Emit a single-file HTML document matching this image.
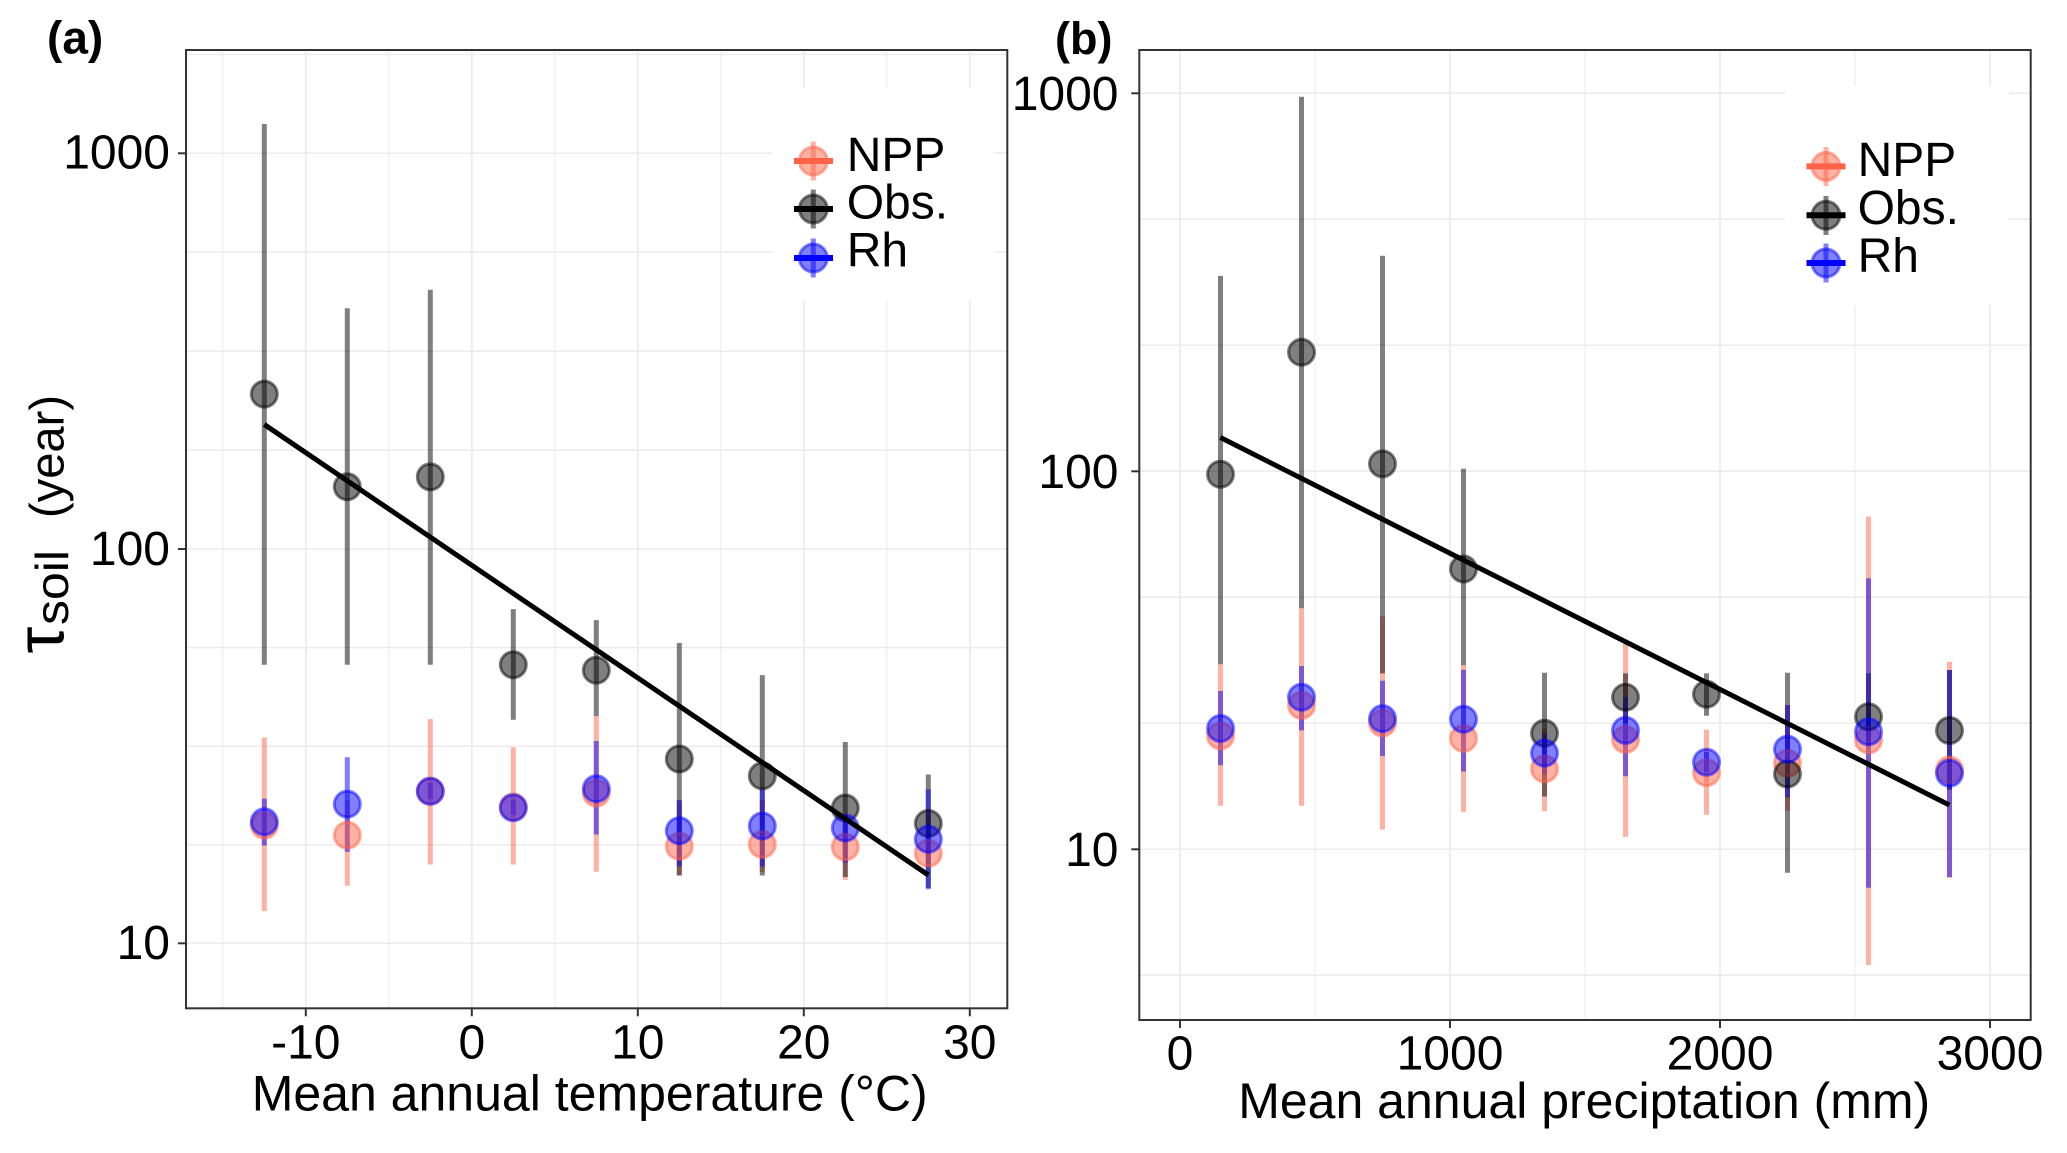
<!DOCTYPE html>
<html><head><meta charset="utf-8"><style>
html,body{margin:0;padding:0;background:#fff;}
svg{display:block;}
text{font-family:"Liberation Sans",Arial,sans-serif;fill:#000;}
</style></head><body>
<svg width="2067" height="1153" viewBox="0 0 2067 1153" xmlns="http://www.w3.org/2000/svg">
<rect x="0" y="0" width="2067" height="1153" fill="#fff"/>

<!-- ================= PANEL A ================= -->
<g stroke="#ebebeb" fill="none">
  <!-- minor verticals -->
  <g stroke-width="1">
    <line x1="222.8" y1="50" x2="222.8" y2="1008.3"/>
    <line x1="388.8" y1="50" x2="388.8" y2="1008.3"/>
    <line x1="554.8" y1="50" x2="554.8" y2="1008.3"/>
    <line x1="720.8" y1="50" x2="720.8" y2="1008.3"/>
    <line x1="886.8" y1="50" x2="886.8" y2="1008.3"/>
  </g>
  <g stroke-width="1.7">
    <line x1="305.8" y1="50" x2="305.8" y2="1008.3"/>
    <line x1="471.8" y1="50" x2="471.8" y2="1008.3"/>
    <line x1="637.8" y1="50" x2="637.8" y2="1008.3"/>
    <line x1="803.8" y1="50" x2="803.8" y2="1008.3"/>
    <line x1="969.8" y1="50" x2="969.8" y2="1008.3"/>
  </g>
  <g stroke-width="1.5">
    <line x1="186" y1="54.4" x2="1007.3" y2="54.4"/>
    <line x1="186" y1="153.3" x2="1007.3" y2="153.3"/>
    <line x1="186" y1="252.2" x2="1007.3" y2="252.2"/>
    <line x1="186" y1="351.2" x2="1007.3" y2="351.2"/>
    <line x1="186" y1="450.1" x2="1007.3" y2="450.1"/>
    <line x1="186" y1="549" x2="1007.3" y2="549"/>
    <line x1="186" y1="647.6" x2="1007.3" y2="647.6"/>
    <line x1="186" y1="746.2" x2="1007.3" y2="746.2"/>
    <line x1="186" y1="844.7" x2="1007.3" y2="844.7"/>
    <line x1="186" y1="943.3" x2="1007.3" y2="943.3"/>
  </g>
</g>
<!-- legend bg a -->
<rect x="772" y="88" width="222" height="212" fill="#fff"/>

<!-- error bars a -->
<g stroke-width="5" stroke-linecap="butt">
  <g stroke="#ff6347" stroke-opacity="0.5">
    <line x1="264.3" y1="737.4" x2="264.3" y2="911.1"/>
    <line x1="347.3" y1="800" x2="347.3" y2="885.8"/>
    <line x1="430.3" y1="719.1" x2="430.3" y2="864.5"/>
    <line x1="513.3" y1="747.3" x2="513.3" y2="864.5"/>
    <line x1="596.3" y1="716.1" x2="596.3" y2="871.8"/>
    <line x1="679.3" y1="800" x2="679.3" y2="875.5"/>
    <line x1="762.3" y1="800" x2="762.3" y2="872"/>
    <line x1="845.3" y1="815" x2="845.3" y2="880"/>
    <line x1="928.3" y1="815" x2="928.3" y2="868"/>
  </g>
  <g stroke="#000" stroke-opacity="0.5">
    <line x1="264.3" y1="124" x2="264.3" y2="664.8"/>
    <line x1="347.3" y1="308.3" x2="347.3" y2="664.8"/>
    <line x1="430.3" y1="289.7" x2="430.3" y2="664.8"/>
    <line x1="513.3" y1="609.1" x2="513.3" y2="719.8"/>
    <line x1="596.3" y1="620.1" x2="596.3" y2="716.1"/>
    <line x1="679.3" y1="642.9" x2="679.3" y2="875.5"/>
    <line x1="762.3" y1="675.1" x2="762.3" y2="875.5"/>
    <line x1="845.3" y1="742" x2="845.3" y2="877"/>
    <line x1="928.3" y1="774.5" x2="928.3" y2="888"/>
  </g>
  <g stroke="#0000ff" stroke-opacity="0.5">
    <line x1="264.3" y1="798.6" x2="264.3" y2="845.5"/>
    <line x1="347.3" y1="757.2" x2="347.3" y2="851.7"/>
    <line x1="430.3" y1="783" x2="430.3" y2="799"/>
    <line x1="513.3" y1="800" x2="513.3" y2="815"/>
    <line x1="596.3" y1="741" x2="596.3" y2="834.5"/>
    <line x1="679.3" y1="800.4" x2="679.3" y2="866.4"/>
    <line x1="762.3" y1="789.4" x2="762.3" y2="866.4"/>
    <line x1="845.3" y1="815" x2="845.3" y2="862.7"/>
    <line x1="928.3" y1="789.3" x2="928.3" y2="889.3"/>
  </g>
</g>
<!-- points a -->
<g stroke-width="3">
  <g fill="#ff6347" fill-opacity="0.5" stroke="#ff6347" stroke-opacity="0.5">
    <circle cx="264.3" cy="825.3" r="13"/>
    <circle cx="347.3" cy="835.2" r="13"/>
    <circle cx="430.3" cy="791.2" r="13"/>
    <circle cx="513.3" cy="807" r="13"/>
    <circle cx="596.3" cy="793.1" r="13"/>
    <circle cx="679.3" cy="846.2" r="13"/>
    <circle cx="762.3" cy="844.4" r="13"/>
    <circle cx="845.3" cy="847" r="13"/>
    <circle cx="928.3" cy="853.3" r="13"/>
  </g>
  <g fill="#000" fill-opacity="0.5" stroke="#000" stroke-opacity="0.5">
    <circle cx="264.3" cy="394.1" r="13"/>
    <circle cx="347.3" cy="486.8" r="13"/>
    <circle cx="430.3" cy="476.9" r="13"/>
    <circle cx="513.3" cy="664.8" r="13"/>
    <circle cx="596.3" cy="670.3" r="13"/>
    <circle cx="679.3" cy="759" r="13"/>
    <circle cx="762.3" cy="775.9" r="13"/>
    <circle cx="845.3" cy="808" r="13"/>
    <circle cx="928.3" cy="823.5" r="13"/>
  </g>
  <g fill="#0000ff" fill-opacity="0.5" stroke="#0000ff" stroke-opacity="0.5">
    <circle cx="264.3" cy="821.7" r="13"/>
    <circle cx="347.3" cy="804.1" r="13"/>
    <circle cx="430.3" cy="791.2" r="13"/>
    <circle cx="513.3" cy="807.7" r="13"/>
    <circle cx="596.3" cy="788.7" r="13"/>
    <circle cx="679.3" cy="830.8" r="13"/>
    <circle cx="762.3" cy="826" r="13"/>
    <circle cx="845.3" cy="828" r="13"/>
    <circle cx="928.3" cy="839.3" r="13"/>
  </g>
</g>
<line x1="264.3" y1="424.5" x2="928.3" y2="875" stroke="#000" stroke-width="5"/>

<!-- border a -->
<rect x="186" y="50" width="821.3" height="958.3" fill="none" stroke="#333" stroke-width="2"/>
<!-- ticks a -->
<g stroke="#333" stroke-width="2">
  <line x1="178" y1="153.3" x2="186" y2="153.3"/>
  <line x1="178" y1="549" x2="186" y2="549"/>
  <line x1="178" y1="943.3" x2="186" y2="943.3"/>
  <line x1="305.8" y1="1008.3" x2="305.8" y2="1016.3"/>
  <line x1="471.8" y1="1008.3" x2="471.8" y2="1016.3"/>
  <line x1="637.8" y1="1008.3" x2="637.8" y2="1016.3"/>
  <line x1="803.8" y1="1008.3" x2="803.8" y2="1016.3"/>
  <line x1="969.8" y1="1008.3" x2="969.8" y2="1016.3"/>
</g>
<g font-size="48" text-anchor="end">
  <text x="170" y="168.5">1000</text>
  <text x="170" y="565">100</text>
  <text x="170" y="959">10</text>
</g>
<g font-size="48" text-anchor="middle">
  <text x="305.8" y="1058.5">-10</text>
  <text x="471.8" y="1058.5">0</text>
  <text x="637.8" y="1058.5">10</text>
  <text x="803.8" y="1058.5">20</text>
  <text x="969.8" y="1058.5">30</text>
</g>
<text x="251.7" y="1110.7" font-size="50" textLength="676" lengthAdjust="spacingAndGlyphs">Mean annual temperature (°C)</text>
<g transform="translate(63.3,653.5) rotate(-90)">
  <text x="0" y="0" font-size="68">τ</text>
  <text x="28.5" y="4.7" font-size="46" textLength="75" lengthAdjust="spacingAndGlyphs">soil</text>
  <text x="135.5" y="0" font-size="48" textLength="123" lengthAdjust="spacingAndGlyphs">(year)</text>
</g>
<text x="47" y="53.5" font-size="46" font-weight="bold">(a)</text>

<!-- legend a -->
<g>
  <line x1="794" y1="161" x2="833" y2="161" stroke="#ff6347" stroke-width="6"/>
  <line x1="813.3" y1="141.5" x2="813.3" y2="180.5" stroke="#ff6347" stroke-opacity="0.5" stroke-width="5"/>
  <circle cx="813.3" cy="161" r="14" fill="#ff6347" fill-opacity="0.5" stroke="#ff6347" stroke-opacity="0.5" stroke-width="3"/>
  <line x1="794" y1="209" x2="833" y2="209" stroke="#000" stroke-width="6"/>
  <line x1="813.3" y1="189.5" x2="813.3" y2="228.5" stroke="#000" stroke-opacity="0.5" stroke-width="5"/>
  <circle cx="813.3" cy="209" r="14" fill="#000" fill-opacity="0.5" stroke="#000" stroke-opacity="0.5" stroke-width="3"/>
  <line x1="794" y1="258" x2="833" y2="258" stroke="#0000ff" stroke-width="6"/>
  <line x1="813.3" y1="238.5" x2="813.3" y2="277.5" stroke="#0000ff" stroke-opacity="0.5" stroke-width="5"/>
  <circle cx="813.3" cy="258" r="14" fill="#0000ff" fill-opacity="0.5" stroke="#0000ff" stroke-opacity="0.5" stroke-width="3"/>
  <g font-size="48">
    <text x="846.7" y="171">NPP</text>
    <text x="846.7" y="218.5">Obs.</text>
    <text x="846.7" y="266.7">Rh</text>
  </g>
</g>

<!-- ================= PANEL B ================= -->
<g stroke="#ebebeb" fill="none">
  <g stroke-width="1">
    <line x1="1315" y1="50" x2="1315" y2="1020"/>
    <line x1="1585" y1="50" x2="1585" y2="1020"/>
    <line x1="1855" y1="50" x2="1855" y2="1020"/>
  </g>
  <g stroke-width="1.7">
    <line x1="1180" y1="50" x2="1180" y2="1020"/>
    <line x1="1450" y1="50" x2="1450" y2="1020"/>
    <line x1="1720" y1="50" x2="1720" y2="1020"/>
    <line x1="1990" y1="50" x2="1990" y2="1020"/>
  </g>
  <g stroke-width="1.5">
    <line x1="1139.3" y1="93.3" x2="2030.7" y2="93.3"/>
    <line x1="1139.3" y1="219.3" x2="2030.7" y2="219.3"/>
    <line x1="1139.3" y1="345.3" x2="2030.7" y2="345.3"/>
    <line x1="1139.3" y1="471.3" x2="2030.7" y2="471.3"/>
    <line x1="1139.3" y1="597.3" x2="2030.7" y2="597.3"/>
    <line x1="1139.3" y1="723.3" x2="2030.7" y2="723.3"/>
    <line x1="1139.3" y1="849.3" x2="2030.7" y2="849.3"/>
    <line x1="1139.3" y1="975.3" x2="2030.7" y2="975.3"/>
  </g>
</g>
<rect x="1785" y="86" width="224" height="219" fill="#fff"/>

<g stroke-width="5" stroke-linecap="butt">
  <g stroke="#ff6347" stroke-opacity="0.5">
    <line x1="1220.5" y1="664.2" x2="1220.5" y2="805.7"/>
    <line x1="1301.5" y1="608.3" x2="1301.5" y2="805.7"/>
    <line x1="1382.5" y1="616.4" x2="1382.5" y2="829.6"/>
    <line x1="1463.5" y1="665.3" x2="1463.5" y2="811.9"/>
    <line x1="1544.5" y1="728.5" x2="1544.5" y2="811.2"/>
    <line x1="1625.5" y1="644" x2="1625.5" y2="836.9"/>
    <line x1="1706.5" y1="729.6" x2="1706.5" y2="814.9"/>
    <line x1="1787.5" y1="705" x2="1787.5" y2="810.7"/>
    <line x1="1868.5" y1="516.5" x2="1868.5" y2="965"/>
    <line x1="1949.5" y1="661.7" x2="1949.5" y2="878"/>
  </g>
  <g stroke="#000" stroke-opacity="0.5">
    <line x1="1220.5" y1="275.9" x2="1220.5" y2="664.2"/>
    <line x1="1301.5" y1="96.7" x2="1301.5" y2="608.3"/>
    <line x1="1382.5" y1="255.7" x2="1382.5" y2="673.4"/>
    <line x1="1463.5" y1="468.7" x2="1463.5" y2="665.3"/>
    <line x1="1544.5" y1="672.7" x2="1544.5" y2="796.5"/>
    <line x1="1625.5" y1="673.4" x2="1625.5" y2="723"/>
    <line x1="1706.5" y1="673.4" x2="1706.5" y2="715.7"/>
    <line x1="1787.5" y1="672.7" x2="1787.5" y2="872.7"/>
    <line x1="1868.5" y1="673.3" x2="1868.5" y2="745"/>
    <line x1="1949.5" y1="670" x2="1949.5" y2="790"/>
  </g>
  <g stroke="#0000ff" stroke-opacity="0.5">
    <line x1="1220.5" y1="691" x2="1220.5" y2="765.3"/>
    <line x1="1301.5" y1="666" x2="1301.5" y2="730.4"/>
    <line x1="1382.5" y1="680.7" x2="1382.5" y2="756"/>
    <line x1="1463.5" y1="669.7" x2="1463.5" y2="771.5"/>
    <line x1="1544.5" y1="734" x2="1544.5" y2="774.5"/>
    <line x1="1625.5" y1="697.3" x2="1625.5" y2="776.3"/>
    <line x1="1706.5" y1="752" x2="1706.5" y2="772"/>
    <line x1="1787.5" y1="705" x2="1787.5" y2="797.3"/>
    <line x1="1868.5" y1="578.3" x2="1868.5" y2="887.7"/>
    <line x1="1949.5" y1="670" x2="1949.5" y2="877"/>
  </g>
</g>
<g stroke-width="3">
  <g fill="#ff6347" fill-opacity="0.5" stroke="#ff6347" stroke-opacity="0.5">
    <circle cx="1220.5" cy="735.9" r="13"/>
    <circle cx="1301.5" cy="705.4" r="13"/>
    <circle cx="1382.5" cy="723" r="13"/>
    <circle cx="1463.5" cy="738.4" r="13"/>
    <circle cx="1544.5" cy="768.9" r="13"/>
    <circle cx="1625.5" cy="739.5" r="13"/>
    <circle cx="1706.5" cy="772.6" r="13"/>
    <circle cx="1787.5" cy="763.3" r="13"/>
    <circle cx="1868.5" cy="740" r="13"/>
    <circle cx="1949.5" cy="770" r="13"/>
  </g>
  <g fill="#000" fill-opacity="0.5" stroke="#000" stroke-opacity="0.5">
    <circle cx="1220.5" cy="474.2" r="13"/>
    <circle cx="1301.5" cy="352.3" r="13"/>
    <circle cx="1382.5" cy="463.9" r="13"/>
    <circle cx="1463.5" cy="569" r="13"/>
    <circle cx="1544.5" cy="733.3" r="13"/>
    <circle cx="1625.5" cy="697.3" r="13"/>
    <circle cx="1706.5" cy="694.3" r="13"/>
    <circle cx="1787.5" cy="774" r="13"/>
    <circle cx="1868.5" cy="716.8" r="13"/>
    <circle cx="1949.5" cy="730.5" r="13"/>
  </g>
  <g fill="#0000ff" fill-opacity="0.5" stroke="#0000ff" stroke-opacity="0.5">
    <circle cx="1220.5" cy="728.5" r="13"/>
    <circle cx="1301.5" cy="697.3" r="13"/>
    <circle cx="1382.5" cy="718.6" r="13"/>
    <circle cx="1463.5" cy="719.3" r="13"/>
    <circle cx="1544.5" cy="753.1" r="13"/>
    <circle cx="1625.5" cy="730.4" r="13"/>
    <circle cx="1706.5" cy="762.3" r="13"/>
    <circle cx="1787.5" cy="749.3" r="13"/>
    <circle cx="1868.5" cy="731.7" r="13"/>
    <circle cx="1949.5" cy="773.3" r="13"/>
  </g>
</g>
<line x1="1220.4" y1="437.5" x2="1949.3" y2="805" stroke="#000" stroke-width="5"/>

<rect x="1139.3" y="50" width="891.4" height="970" fill="none" stroke="#333" stroke-width="2"/>
<g stroke="#333" stroke-width="2">
  <line x1="1131.3" y1="93.3" x2="1139.3" y2="93.3"/>
  <line x1="1131.3" y1="471.3" x2="1139.3" y2="471.3"/>
  <line x1="1131.3" y1="849.3" x2="1139.3" y2="849.3"/>
  <line x1="1180" y1="1020" x2="1180" y2="1028"/>
  <line x1="1450" y1="1020" x2="1450" y2="1028"/>
  <line x1="1720" y1="1020" x2="1720" y2="1028"/>
  <line x1="1990" y1="1020" x2="1990" y2="1028"/>
</g>
<g font-size="48" text-anchor="end">
  <text x="1118.5" y="110">1000</text>
  <text x="1118.5" y="488">100</text>
  <text x="1118.5" y="866">10</text>
</g>
<g font-size="48" text-anchor="middle">
  <text x="1180" y="1069.3">0</text>
  <text x="1450" y="1069.3">1000</text>
  <text x="1720" y="1069.3">2000</text>
  <text x="1990" y="1069.3">3000</text>
</g>
<text x="1238.2" y="1118" font-size="50" textLength="692" lengthAdjust="spacingAndGlyphs">Mean annual preciptation (mm)</text>
<text x="1055" y="54" font-size="45" font-weight="bold">(b)</text>

<g>
  <line x1="1806.5" y1="166.4" x2="1845.5" y2="166.4" stroke="#ff6347" stroke-width="6"/>
  <line x1="1826" y1="147" x2="1826" y2="186" stroke="#ff6347" stroke-opacity="0.5" stroke-width="5"/>
  <circle cx="1826" cy="166.4" r="14" fill="#ff6347" fill-opacity="0.5" stroke="#ff6347" stroke-opacity="0.5" stroke-width="3"/>
  <line x1="1806.5" y1="215.3" x2="1845.5" y2="215.3" stroke="#000" stroke-width="6"/>
  <line x1="1826" y1="196" x2="1826" y2="235" stroke="#000" stroke-opacity="0.5" stroke-width="5"/>
  <circle cx="1826" cy="215.3" r="14" fill="#000" fill-opacity="0.5" stroke="#000" stroke-opacity="0.5" stroke-width="3"/>
  <line x1="1806.5" y1="263" x2="1845.5" y2="263" stroke="#0000ff" stroke-width="6"/>
  <line x1="1826" y1="243.5" x2="1826" y2="282.5" stroke="#0000ff" stroke-opacity="0.5" stroke-width="5"/>
  <circle cx="1826" cy="263" r="14" fill="#0000ff" fill-opacity="0.5" stroke="#0000ff" stroke-opacity="0.5" stroke-width="3"/>
  <g font-size="48">
    <text x="1857.6" y="176">NPP</text>
    <text x="1857.6" y="224">Obs.</text>
    <text x="1857.6" y="272">Rh</text>
  </g>
</g>
</svg>
</body></html>
